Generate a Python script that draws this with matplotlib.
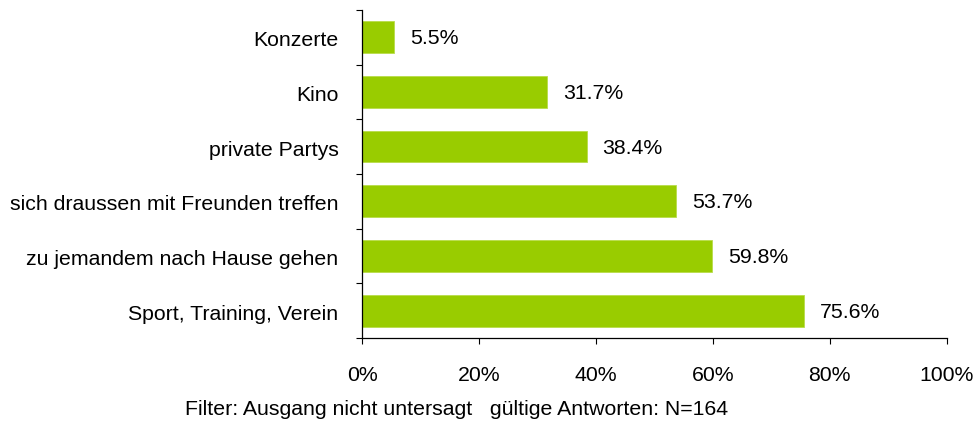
import numpy as np
import matplotlib.pyplot as plt
from matplotlib.ticker import FixedLocator

categories = ['Konzerte', 'Kino', 'private Partys', 'sich draussen mit Freunden treffen',
              'zu jemandem nach Hause gehen', 'Sport, Training, Verein']
values = [5.5, 31.7, 38.4, 53.7, 59.8, 75.6]
xticks = [0, 20, 40, 60, 80, 100]

plt.rcParams['font.family'] = ['Liberation Sans', 'DejaVu Sans']
fs = 15.3

fig = plt.figure(figsize=(9.76, 4.32), dpi=100)
ax = fig.add_axes([0.371, 0.2176, 0.599, 0.7594])

y = np.arange(len(categories))
ax.barh(y, values, height=0.58, color='#99CC00', edgecolor='#b8dc4a', linewidth=0.6)
for yi, v in zip(y, values):
    ax.annotate(f'{v:.1f}%', (v, yi), xytext=(11.5, -1.2), textcoords='offset points',
                ha='left', va='center', fontsize=fs)

ax.set_ylim(len(categories) - 0.5, -0.5)
ax.set_xlim(0, 100)
ax.set_yticks(y + 0.03)
ax.set_yticklabels(categories, fontsize=fs)
ax.yaxis.set_minor_locator(FixedLocator(np.arange(-0.5, len(categories), 1)))
ax.tick_params(axis='y', which='major', length=0, pad=17)
ax.tick_params(axis='y', which='minor', length=4, width=0.8, direction='out')
ax.set_xticks(xticks)
ax.set_xticklabels([f'{t}%' for t in xticks], fontsize=fs)
ax.tick_params(axis='x', length=4, width=0.8, pad=16.5)

for s in ['top', 'right']:
    ax.spines[s].set_visible(False)
for s in ['left', 'bottom']:
    ax.spines[s].set_linewidth(0.9)

fig.text(0.468, 0.053, 'Filter: Ausgang nicht untersagt   gültige Antworten: N=164',
         ha='center', va='center', fontsize=fs)

fig.savefig('out.png', dpi=100)
